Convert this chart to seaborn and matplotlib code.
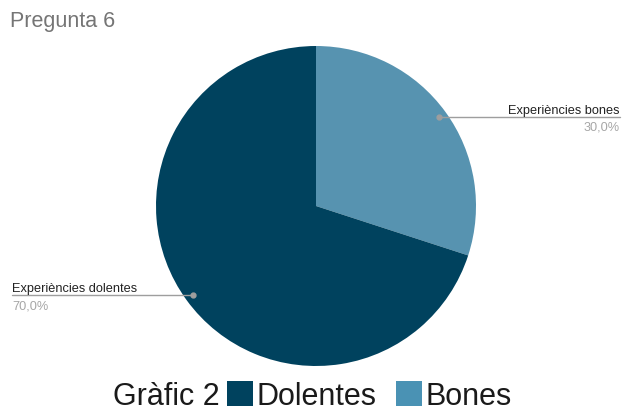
import numpy as np
import matplotlib
matplotlib.use("Agg")
import matplotlib.pyplot as plt
import seaborn as sns
from matplotlib.patches import Patch
from matplotlib.lines import Line2D

# Survey answers for question 6
categories = ["Bones", "Dolentes"]
slice_labels = ["Experiències bones", "Experiències dolentes"]
values = [30, 70]
colors = ["#5793b0", "#00425e"]
legend_colors = {"Dolentes": "#00425e", "Bones": "#4a92b4"}

sns.set_theme(style="white")
plt.rcParams["font.family"] = ["Liberation Sans", "DejaVu Sans"]

W, H = 629, 414
fig = plt.figure(figsize=(W / 100, H / 100), dpi=100)

# pie centred at (316, 207) px with 160 px radius
cx, cy, r = 316, 207, 160
ax = fig.add_axes([(cx - r) / W, (H - cy - r) / H, 2 * r / W, 2 * r / H])
wedges, _ = ax.pie(values, colors=colors, startangle=90, counterclock=False,
                   radius=1.0, wedgeprops=dict(linewidth=0))
ax.set_xlim(-1, 1)
ax.set_ylim(-1, 1)
ax.set_aspect("equal")
ax.axis("off")

fig.text(10 / W, 1 - 22 / H, "Pregunta 6", fontsize=15.5, color="#757575",
         ha="left", va="center")

total = sum(values)
line_col = "#9e9e9e"
for w, lab, v in zip(wedges, slice_labels, values):
    mid = np.deg2rad((w.theta1 + w.theta2) / 2)
    px, py = 0.95 * np.cos(mid), 0.95 * np.sin(mid)
    dx, dy = fig.transFigure.inverted().transform(ax.transData.transform((px, py)))
    pct = f"{v / total * 100:.1f}%".replace(".", ",")
    if px > 0:
        xe = 620 / W
        ha = "right"
    else:
        xe = 12 / W
        ha = "left"
    fig.add_artist(Line2D([dx, xe], [dy, dy], color=line_col, lw=1.0,
                          transform=fig.transFigure))
    fig.add_artist(Line2D([dx], [dy], marker="o", markersize=3.5, color=line_col,
                          transform=fig.transFigure))
    fig.text(xe, dy + 4 / H, lab, fontsize=9.2, color="#222222", ha=ha, va="baseline")
    fig.text(xe, dy - 4 / H, pct, fontsize=9.2, color="#a6a6a6", ha=ha, va="top")

# legend along the bottom
fig.text(113 / W, 1 - 397 / H, "Gràfic 2", fontsize=22, color="#1a1a1a",
         ha="left", va="center")
handles = [Patch(facecolor=legend_colors[c], edgecolor="none") for c in ["Dolentes", "Bones"]]
fig.legend(handles, ["Dolentes", "Bones"], loc="center left",
           bbox_to_anchor=(227 / W, 1 - 397 / H), ncol=2, frameon=False,
           fontsize=22, handlelength=0.85, handleheight=0.85, handletextpad=0.13,
           columnspacing=0.62, borderpad=0, borderaxespad=0, labelcolor="#1a1a1a")

fig.savefig("out.png", dpi=100, facecolor="white")
